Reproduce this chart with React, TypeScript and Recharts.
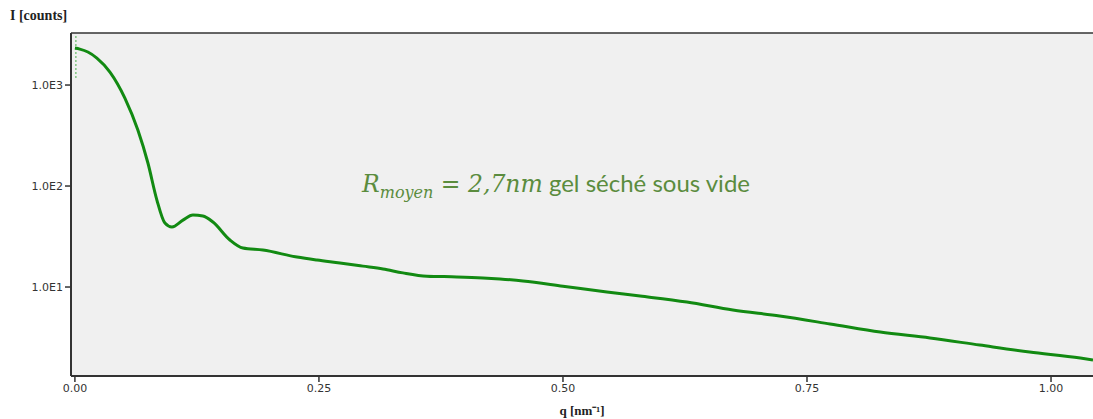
import React from 'react';
import { LineChart, Line, XAxis, YAxis, CartesianGrid, ReferenceLine } from 'recharts';

const qValues = [0, 0.005, 0.0133, 0.0225, 0.0359, 0.0512, 0.0645, 0.0748, 0.084, 0.0922, 0.0994, 0.1107, 0.1209, 0.1311, 0.1414, 0.1588, 0.1721, 0.1926, 0.2275, 0.248, 0.2715, 0.295, 0.3156, 0.336, 0.3607, 0.3914, 0.418, 0.4355, 0.459, 0.5, 0.545, 0.579, 0.627, 0.674, 0.722, 0.7736, 0.825, 0.876, 0.927, 0.978, 1.03, 1.043];
const intensity = [2323, 2270, 2123, 1850, 1345, 743, 358, 169, 72.6, 43, 39.3, 46, 51.6, 50.5, 44, 29.2, 24.3, 23.2, 19.8, 18.5, 17.3, 16.1, 15.1, 13.8, 12.8, 12.6, 12.3, 12.0, 11.5, 10.2, 8.91, 8.14, 7.1, 5.92, 5.16, 4.31, 3.58, 3.13, 2.66, 2.27, 1.98, 1.89];
const xTicks = [0, 0.25, 0.5, 0.75, 1.0];
const yTicks = [10, 100, 1000];
const yTickLabels = ['1.0E1', '1.0E2', '1.0E3'];

const data = qValues.map((q, i) => ({ q, I: intensity[i] }));

const Y_MIN = 1.315;
const Y_MAX = 3275;

export default function App() {
  return (
    <div style={{ position: 'absolute', left: 0, top: 0, width: 1093, height: 419, background: '#fff' }}>
      <LineChart width={1093} height={419} data={data} margin={{ top: 33, right: 0, bottom: 0, left: 0 }}>
        <CartesianGrid fill="#f0f0f0" stroke="none" horizontal={false} vertical={false} />
        <XAxis
          dataKey="q"
          type="number"
          domain={[-0.004, 1.043]}
          ticks={xTicks}
          allowDataOverflow
          tickFormatter={(v: number) => v.toFixed(2)}
          height={43}
          tickSize={6}
          axisLine={{ stroke: '#333', strokeWidth: 2 }}
          tickLine={{ stroke: '#333', strokeWidth: 1.5 }}
          tick={{ fill: '#333', fontSize: 11, fontFamily: 'DejaVu Sans' }}
          label={{ value: 'q [nm⁻¹]', position: 'insideBottom', offset: 4, fill: '#222', fontSize: 13, fontWeight: 'bold', fontFamily: 'Liberation Serif' }}
        />
        <YAxis
          dataKey="I"
          scale="log"
          domain={[Y_MIN, Y_MAX]}
          ticks={yTicks}
          allowDataOverflow
          tickFormatter={(v: number) => yTickLabels[yTicks.indexOf(v)] ?? ''}
          width={71}
          tickSize={6}
          axisLine={{ stroke: '#333', strokeWidth: 2 }}
          tickLine={{ stroke: '#333', strokeWidth: 1.5 }}
          tick={{ fill: '#333', fontSize: 11, fontFamily: 'DejaVu Sans' }}
        />
        <ReferenceLine y={Y_MAX} stroke="#333" strokeWidth={1.5} ifOverflow="visible" />
        <ReferenceLine
          segment={[{ x: 0.001, y: 1173 }, { x: 0.001, y: 3126 }]}
          stroke="#66bb66"
          strokeDasharray="2 2"
          strokeWidth={1.2}
        />
        <Line
          dataKey="I"
          type="monotone"
          stroke="#128a12"
          strokeWidth={3}
          dot={false}
          isAnimationActive={false}
        />
      </LineChart>
      <div style={{ position: 'absolute', left: 10, top: 8, fontFamily: 'Liberation Serif', fontWeight: 'bold', fontSize: 14, color: '#222' }}>
        I [counts]
      </div>
      <div style={{ position: 'absolute', left: 362, top: 169, color: '#5b8c3e', fontSize: 23.5, whiteSpace: 'nowrap', lineHeight: '28px' }}>
        <span style={{ fontFamily: 'DejaVu Serif', fontStyle: 'italic' }}>
          R<sub style={{ fontSize: 16 }}>moyen</sub> = 2,7nm
        </span>
        <span style={{ fontFamily: 'Lato', fontSize: 24 }}> gel séché sous vide</span>
      </div>
    </div>
  );
}
